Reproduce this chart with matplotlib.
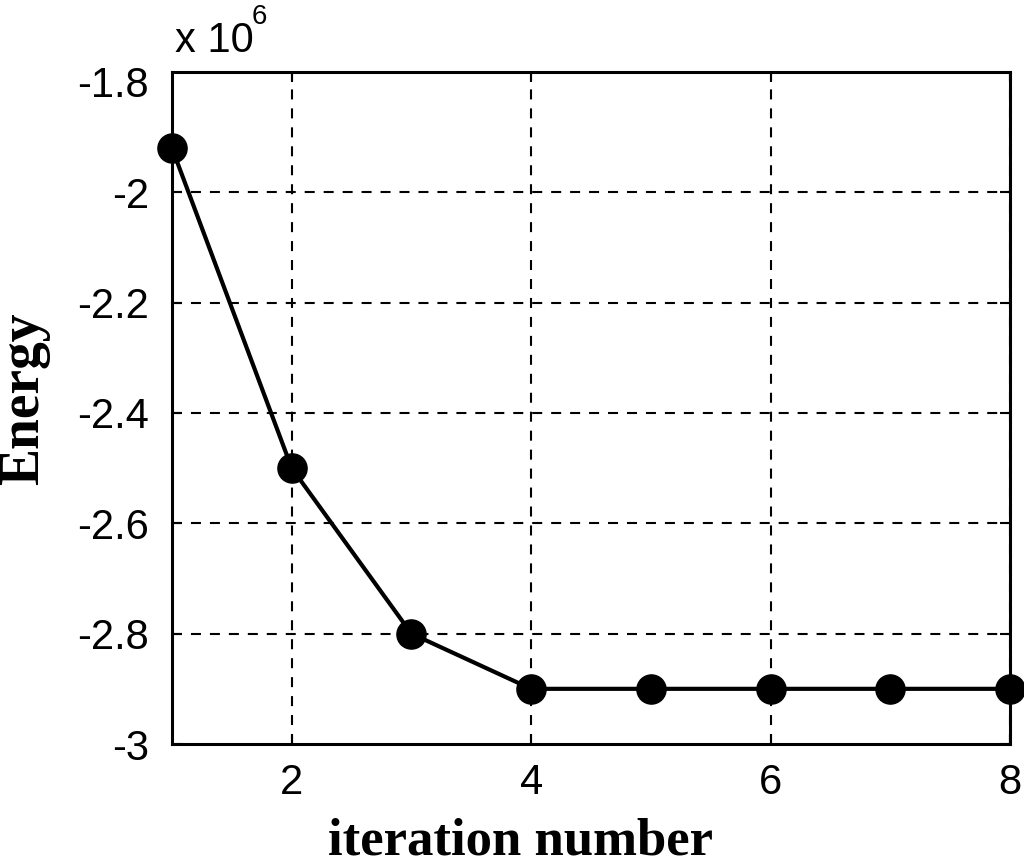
import matplotlib
matplotlib.use("Agg")
import matplotlib.pyplot as plt

iterations = [1, 2, 3, 4, 5, 6, 7, 8]
energy_millions = [-1.92, -2.50, -2.80, -2.90, -2.90, -2.90, -2.90, -2.90]
x_ticks = [2, 4, 6, 8]
y_ticks = [-3.0, -2.8, -2.6, -2.4, -2.2, -2.0, -1.8]
y_tick_labels = ["-3", "-2.8", "-2.6", "-2.4", "-2.2", "-2", "-1.8"]

W, H = 1024, 863
fig = plt.figure(figsize=(W/100, H/100), dpi=100)
ax = fig.add_axes([172/W, 1 - 744/H, (1010-172)/W, (744-72)/H])

ax.plot(iterations, energy_millions, color="black", lw=3, marker="o",
        markersize=21, clip_on=False, zorder=5)

ax.set_xlim(1, 8)
ax.set_ylim(-3.0, -1.782)
ax.set_xticks(x_ticks)
ax.set_yticks(y_ticks)
ax.set_yticklabels(y_tick_labels)
ax.grid(True, color="black", linestyle=(0, (4.8, 4.3)), linewidth=1.5)
ax.tick_params(direction="in", length=7, width=1.5, top=True, right=True,
               labelsize=30, colors="black")
ax.tick_params(axis="x", pad=13.5)
ax.tick_params(axis="y", pad=16.5)
# no visible grid line / tick at the top label in the reference
ygl = ax.yaxis.get_gridlines()
ygl[-1].set_visible(False)
ygl[0].set_visible(False)
for t in ax.yaxis.get_major_ticks()[-1:]:
    t.tick1line.set_visible(False)
    t.tick2line.set_visible(False)
for lab in ax.get_xticklabels() + ax.get_yticklabels():
    lab.set_family("Liberation Sans")
for s in ax.spines.values():
    s.set_linewidth(2.2)
    s.set_color("black")

fig.text(521/W, 1 - 854/H, "iteration number", fontsize=38, fontweight="bold",
         family="Liberation Serif", ha="center", va="baseline")
fig.text(38/W, 1 - 399/H, "Energy", fontsize=40, fontweight="bold",
         family="Liberation Serif", ha="center", va="baseline",
         rotation=90, rotation_mode="anchor")

fig.text(175/W, 1 - 52/H, "x 10", fontsize=30, family="Liberation Sans",
         ha="left", va="baseline")
fig.text(252/W, 1 - 24/H, "6", fontsize=20, family="Liberation Sans",
         ha="left", va="baseline")

fig.savefig("out.png", dpi=100)
